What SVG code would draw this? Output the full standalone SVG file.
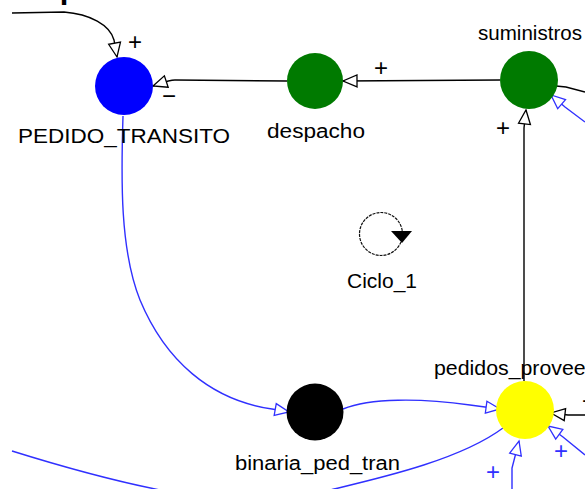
<svg xmlns="http://www.w3.org/2000/svg" width="585" height="489" viewBox="0 0 585 489">
  <defs>
    <style>
      .lbl { font-family: "Liberation Sans", Arial, sans-serif; font-size: 20px; fill: #000; }
      .sign { font-family: "Liberation Sans", Arial, sans-serif; font-size: 24px; text-anchor: middle; dominant-baseline: central; }
      .title { font-family: "Liberation Sans", Arial, sans-serif; font-size: 28px; font-weight: bold; fill: #000; }
      .k { fill: none; stroke: #000; stroke-width: 1.4; }
      .b { fill: none; stroke: #3030ff; stroke-width: 1.4; }
    </style>
    <marker id="arrK" viewBox="0 0 16 14" refX="15" refY="7" markerWidth="16" markerHeight="14" markerUnits="userSpaceOnUse" orient="auto" overflow="visible">
      <path d="M1,1 L15,7 L1,13 Z" fill="#fff" stroke="#000" stroke-width="1.3"/>
    </marker>
    <marker id="arrB" viewBox="0 0 16 14" refX="15" refY="7" markerWidth="16" markerHeight="14" markerUnits="userSpaceOnUse" orient="auto" overflow="visible">
      <path d="M1,1 L15,7 L1,13 Z" fill="#fff" stroke="#3030ff" stroke-width="1.3"/>
    </marker>
  </defs>
  <rect width="585" height="489" fill="#fff"/>

  <text class="title" x="15" y="-1" textLength="330" lengthAdjust="spacingAndGlyphs">de pedidos en tránsito</text>

  <g id="connectors">
    <path class="k" d="M12,13 L64,12 C90,14 110,25 114,40 L117,57" marker-end="url(#arrK)"/>
    <path class="k" d="M287,81 L175,80 C168,80 162,83 153,86" marker-end="url(#arrK)"/>
    <path class="k" d="M500,80 L343,81" marker-end="url(#arrK)"/>
    <path class="k" d="M524,381 L524,128 L526,110" marker-end="url(#arrK)"/>
    <path class="k" d="M556,86 L566,87 L585,92"/>
    <path class="b" d="M585,122 L565,107 L551,95" marker-end="url(#arrB)"/>
    <path class="b" d="M123,116 C121,180 120,250 140,300 C165,360 210,400 272,409 L289,412" marker-end="url(#arrB)"/>
    <path class="b" d="M343,409 C370,398 420,398 470,405 L500,409" marker-end="url(#arrB)"/>
    <path class="b" d="M12,451 C60,466 110,480 160,490 C230,505 280,500 330,490 C380,478 460,460 503,428"/>
    <path class="b" d="M512,489 L512,468 L519,441" marker-end="url(#arrB)"/>
    <path class="b" d="M585,455 L563,437 L548,426" marker-end="url(#arrB)"/>
    <path class="k" d="M585,415 L568,415 L551,413" marker-end="url(#arrK)"/>

    <text class="sign" x="135" y="41" fill="#000">+</text>
    <text class="sign" x="169" y="95" fill="#000">−</text>
    <text class="sign" x="381" y="67" fill="#000">+</text>
    <text class="sign" x="503" y="127" fill="#000">+</text>
    <text class="sign" x="493" y="471" fill="#3030ff">+</text>
    <text class="sign" x="561" y="450" fill="#3030ff">+</text>
    <text class="sign" x="589" y="400" fill="#000">+</text>
  </g>

  <g id="PEDIDO_TRANSITO">
    <circle cx="124" cy="86" r="29" fill="#0000ff"/>
    <text class="lbl" x="18" y="143" textLength="212" lengthAdjust="spacingAndGlyphs">PEDIDO_TRANSITO</text>
  </g>

  <g id="despacho">
    <circle cx="315" cy="81" r="28" fill="#007a00"/>
    <text class="lbl" x="267" y="138" textLength="98" lengthAdjust="spacingAndGlyphs">despacho</text>
  </g>

  <g id="suministros">
    <circle cx="529" cy="80" r="29" fill="#007a00"/>
    <text class="lbl" x="478" y="40" textLength="104" lengthAdjust="spacingAndGlyphs">suministros</text>
  </g>

  <g id="Ciclo_1">
    <circle cx="381" cy="234" r="21.5" fill="none" stroke="#111" stroke-width="1.2" stroke-dasharray="3 1"/>
    <path d="M391,231 L412,231 L402,243 Z" fill="#000"/>
    <text class="lbl" x="347" y="288" textLength="70" lengthAdjust="spacingAndGlyphs">Ciclo_1</text>
  </g>

  <g id="binaria_ped_tran">
    <circle cx="315" cy="412" r="28.5" fill="#000"/>
    <text class="lbl" x="235" y="470" textLength="165" lengthAdjust="spacingAndGlyphs">binaria_ped_tran</text>
  </g>

  <g id="pedidos_proveedores">
    <circle cx="525" cy="410" r="29" fill="#ffff00"/>
    <text class="lbl" x="434" y="375" textLength="205" lengthAdjust="spacingAndGlyphs">pedidos_proveedores</text>
  </g>
</svg>
